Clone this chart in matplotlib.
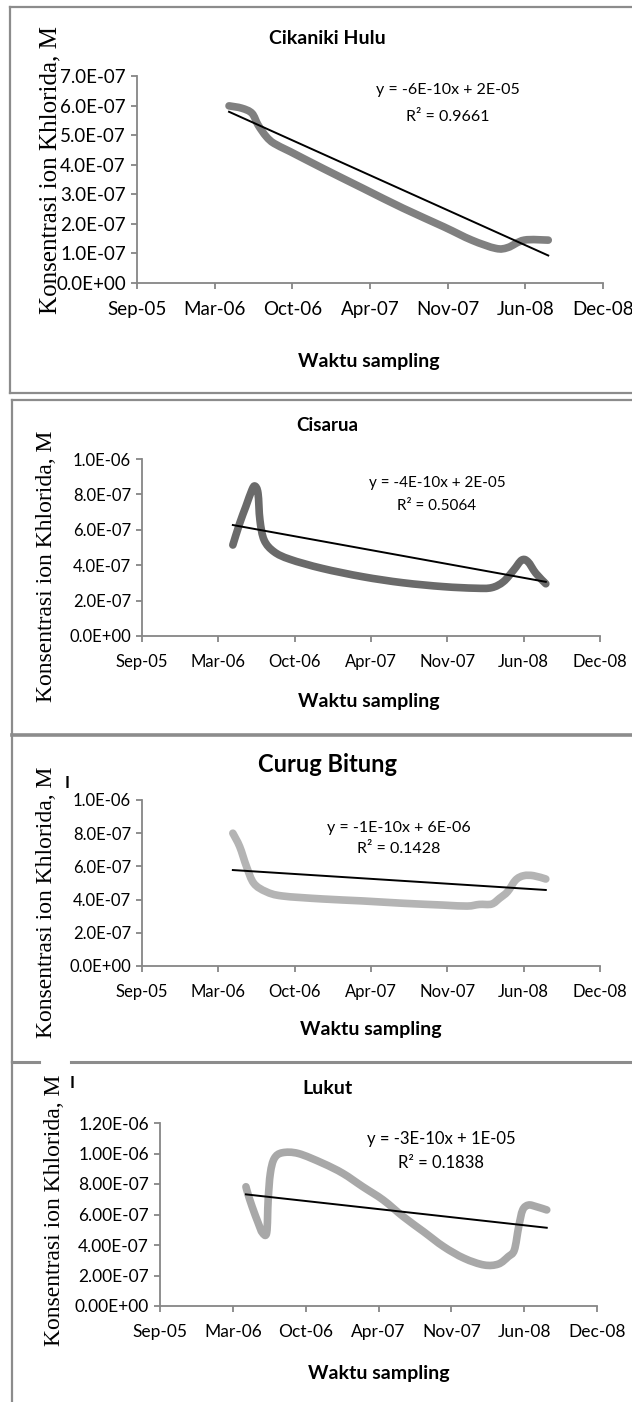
import numpy as np
import pandas as pd
import matplotlib
matplotlib.use('Agg')
from matplotlib import pyplot as plt
import matplotlib.dates as mdates
from matplotlib.lines import Line2D
from matplotlib.path import Path
from matplotlib.patches import PathPatch
from matplotlib.ticker import FormatStrFormatter

########## DATA ##########

# excel date axis: 38600 .. 39800, major unit 200 days
tick_dates = ['2005-09-05', '2006-03-24', '2006-10-10', '2007-04-28',
              '2007-11-14', '2008-06-01', '2008-12-18']
tick_labels = ['Sep-05', 'Mar-06', 'Oct-06', 'Apr-07', 'Nov-07', 'Jun-08', 'Dec-08']

# Cikaniki Hulu
cik_dates = ['2006-04-30', '2006-06-02', '2006-06-28', '2006-07-14', '2006-08-04',
             '2006-08-24', '2006-10-05', '2006-12-27', '2007-04-10', '2007-07-22',
             '2007-11-04', '2008-01-15', '2008-03-17', '2008-04-17', '2008-05-29',
             '2008-07-30']
cik_values = [5.99e-7, 5.91e-7, 5.74e-7, 5.34e-7, 4.95e-7, 4.72e-7, 4.44e-7, 3.88e-7,
              3.20e-7, 2.53e-7, 1.90e-7, 1.45e-7, 1.17e-7, 1.20e-7, 1.45e-7, 1.45e-7]
cik_trend = [5.79e-7, 0.93e-7]

# Cisarua
cis_dates = ['2006-05-01', '2006-05-19', '2006-06-04', '2006-06-20', '2006-06-28',
             '2006-07-06', '2006-07-11', '2006-07-22', '2006-08-17', '2006-09-28',
             '2006-12-21', '2007-04-06', '2007-07-20', '2007-11-03', '2008-01-26',
             '2008-03-09', '2008-04-09', '2008-05-06', '2008-05-27', '2008-06-12',
             '2008-07-03', '2008-07-29']
cis_values = [5.14e-7, 6.37e-7, 7.31e-7, 8.25e-7, 8.47e-7, 8.06e-7, 6.55e-7, 5.42e-7,
              4.76e-7, 4.33e-7, 3.82e-7, 3.35e-7, 3.01e-7, 2.79e-7, 2.70e-7, 2.73e-7,
              3.07e-7, 3.73e-7, 4.29e-7, 4.20e-7, 3.54e-7, 2.95e-7]
cis_trend = [6.27e-7, 3.06e-7]

# Curug Bitung
cur_dates = ['2006-05-01', '2006-05-19', '2006-06-06', '2006-06-25', '2006-07-27',
             '2006-09-07', '2006-12-21', '2007-04-06', '2007-07-20', '2007-11-03',
             '2008-01-05', '2008-02-06', '2008-03-09', '2008-03-30', '2008-04-20',
             '2008-05-11', '2008-06-01', '2008-06-27', '2008-07-29']
cur_values = [8.00e-7, 7.19e-7, 5.98e-7, 4.98e-7, 4.48e-7, 4.22e-7, 4.04e-7, 3.92e-7,
              3.78e-7, 3.67e-7, 3.61e-7, 3.71e-7, 3.73e-7, 4.08e-7, 4.48e-7, 5.18e-7,
              5.44e-7, 5.44e-7, 5.24e-7]
cur_trend = [5.78e-7, 4.58e-7]

# Lukut
luk_dates = ['2006-04-29', '2006-05-04', '2006-05-16', '2006-06-02', '2006-06-13',
             '2006-06-25', '2006-06-29', '2006-07-05', '2006-07-16', '2006-08-07',
             '2006-09-20', '2006-11-26', '2007-01-20', '2007-03-16', '2007-05-11',
             '2007-07-05', '2007-08-30', '2007-10-24', '2007-12-19', '2008-02-12',
             '2008-03-22', '2008-04-18', '2008-05-05', '2008-05-17', '2008-05-28',
             '2008-06-13', '2008-07-05', '2008-08-02']
luk_values = [7.82e-7, 7.39e-7, 6.51e-7, 5.42e-7, 4.81e-7, 4.81e-7, 6.95e-7, 8.70e-7,
              9.68e-7, 10.05e-7, 10.0e-7, 9.36e-7, 8.70e-7, 7.82e-7, 6.95e-7, 5.86e-7,
              4.87e-7, 3.89e-7, 3.13e-7, 2.69e-7, 2.75e-7, 3.23e-7, 3.67e-7, 5.20e-7,
              6.30e-7, 6.62e-7, 6.51e-7, 6.30e-7]
luk_trend = [7.32e-7, 5.13e-7]

########## LAYOUT ##########

W, H = 632, 1402
fig = plt.figure(figsize=(W / 100, H / 100), dpi=100)

SANS = ['Lato', 'DejaVu Sans']
SERIF = ['Liberation Serif', 'DejaVu Serif']
AXCOL = '#868686'
BORDER = '#8c8c8c'


def px_box(left, top, right, bottom):
    return [left / W, 1 - bottom / H, (right - left) / W, (bottom - top) / H]


def fx(x):
    return x / W


def fy(y):
    return 1 - y / H


def hline(y, x0, x1, lw=1.6):
    fig.add_artist(Line2D([fx(x0), fx(x1)], [fy(y), fy(y)], transform=fig.transFigure,
                          color=BORDER, lw=lw))


def vline(x, y0, y1, lw=1.6):
    fig.add_artist(Line2D([fx(x), fx(x)], [fy(y0), fy(y1)], transform=fig.transFigure,
                          color=BORDER, lw=lw))


def smooth_path(x, y):
    # excel style "smoothed line": cubic bezier through every point
    pts = np.column_stack([x, y])
    ext = np.vstack([pts[0], pts, pts[-1]])
    verts = [pts[0]]
    codes = [Path.MOVETO]
    for i in range(len(pts) - 1):
        p0, p1, p2, p3 = ext[i], ext[i + 1], ext[i + 2], ext[i + 3]
        verts += [p1 + (p2 - p0) / 6, p2 - (p3 - p1) / 6, p2]
        codes += [Path.CURVE4] * 3
    return Path(verts, codes)


def panel(box, dates, values, trend, color, ymax, ystep, yfmt, title, title_xy, title_size,
          eq, r2, eq_xy, eq_size, xlab_xy, ylab_xy, ylab_size, tick_size):
    ax = fig.add_axes(px_box(*box))
    x = mdates.date2num(pd.to_datetime(dates))
    ax.add_patch(PathPatch(smooth_path(x, values), fill=False, edgecolor=color, lw=5.5,
                           capstyle='round', joinstyle='round'))
    ax.plot([x[0], x[-1]], trend, color='black', lw=1.4)
    ticks = mdates.date2num(pd.to_datetime(tick_dates))
    ax.set_xlim(ticks[0], ticks[-1])
    ax.set_xticks(ticks)
    ax.set_xticklabels(tick_labels)
    ax.set_ylim(0, ymax)
    ax.set_yticks(np.arange(0, ymax + ystep / 2, ystep))
    ax.yaxis.set_major_formatter(FormatStrFormatter(yfmt))
    for s in ['top', 'right']:
        ax.spines[s].set_visible(False)
    for s in ['left', 'bottom']:
        ax.spines[s].set_color(AXCOL)
        ax.spines[s].set_linewidth(1.3)
    ax.tick_params(direction='out', length=4, width=1.3, color=AXCOL, labelsize=tick_size, pad=4)
    for lab in ax.get_xticklabels() + ax.get_yticklabels():
        lab.set_family(SANS)
    ax.xaxis.set_tick_params(pad=9)
    ax.patch.set_alpha(0)

    fig.text(fx(title_xy[0]), fy(title_xy[1]), title, ha='center', va='center',
             fontsize=title_size, fontweight='bold', family=SANS)
    fig.text(fx(eq_xy[0]), fy(eq_xy[1]), eq, ha='center', va='center', fontsize=eq_size, family=SANS)
    fig.text(fx(eq_xy[0]), fy(eq_xy[1] + eq_xy[2]), r2, ha='center', va='center', fontsize=eq_size,
             family=SANS)
    fig.text(fx(xlab_xy[0]), fy(xlab_xy[1]), 'Waktu sampling', ha='center', va='center',
             fontsize=14, fontweight='bold', family=SANS)
    fig.text(fx(ylab_xy[0]), fy(ylab_xy[1]), 'Konsentrasi ion Khlorida, M', ha='center', va='center',
             rotation=90, fontsize=ylab_size, family=SERIF)
    return ax


########## PANELS ##########

panel((137, 76, 603, 283), cik_dates, cik_values, cik_trend, '#808080', 7e-7, 1e-7, '%.1E',
      'Cikaniki Hulu', (327, 39), 14, 'y = -6E-10x + 2E-05', 'R² = 0.9661', (448, 90, 27), 11.5,
      (369, 361), (50, 170), 18, 13.5)

panel((142, 459, 600, 636), cis_dates, cis_values, cis_trend, '#6a6a6a', 1e-6, 2e-7, '%.1E',
      'Cisarua', (327, 425), 13.5, 'y = -4E-10x + 2E-05', 'R² = 0.5064', (437, 483, 23), 11,
      (369, 701), (47, 566), 17, 12)

panel((142, 800, 600, 966), cur_dates, cur_values, cur_trend, '#b4b4b4', 1e-6, 2e-7, '%.1E',
      'Curug Bitung', (327, 765), 17, 'y = -1E-10x + 6E-06', 'R² = 0.1428', (399, 828, 21), 11.5,
      (371, 1030), (47, 902), 17, 12)

panel((160, 1123, 597, 1306), luk_dates, luk_values, luk_trend, '#a8a8a8', 1.2e-6, 2e-7, '%.2E',
      'Lukut', (327, 1088), 14, 'y = -3E-10x + 1E-05', 'R² = 0.1838', (441, 1139, 24), 12,
      (379, 1373), (55, 1210), 17, 12.5)

# stray glyphs left over from the original axis titles
fig.text(fx(67), fy(783), 'I', ha='center', va='center', fontsize=12, fontweight='bold', family=SANS)
fig.text(fx(72), fy(1083), 'I', ha='center', va='center', fontsize=12, fontweight='bold', family=SANS)

########## BORDERS ##########

# panel 1 box
hline(7, 10, 632)
vline(10, 7, 393)
hline(393, 10, 632)
# panel 2 box
hline(400, 12, 632)
vline(12, 400, 735)
hline(735, 12, 632, lw=2.6)
# panel 3 box
vline(12, 735, 1062)
hline(1062, 12, 39, lw=2.2)
hline(1062, 71, 632, lw=2.2)
# panel 4 (open bottom)
vline(12, 1062, 1402)

fig.savefig('out.png', dpi=100)
